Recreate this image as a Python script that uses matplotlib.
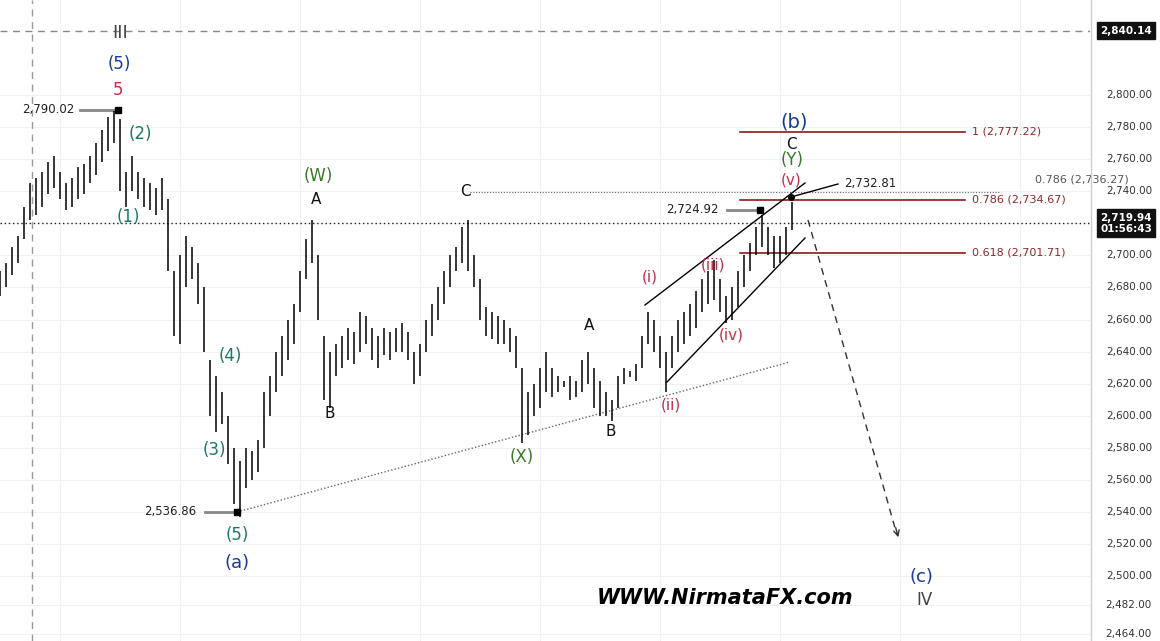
import matplotlib
matplotlib.use("Agg")
import matplotlib.pyplot as plt

highs = [2690,2695,2705,2712,2730,2745,2748,2752,2758,2762,2752,2745,2748,2755,2757,2762,2770,2778,2786,2790,
         2785,2752,2762,2752,2748,2745,2742,2748,2735,2690,2700,2712,2705,2695,2680,2635,2625,2615,2600,2580,
         2572,2580,2578,2585,2615,2625,2640,2650,2660,2670,2690,2710,2722,2700,2650,2640,2645,2650,2655,2652,
         2665,2662,2655,2650,2655,2652,2655,2658,2652,2640,2645,2660,2670,2680,2690,2700,2705,2718,2722,2700,
         2685,2668,2665,2662,2660,2655,2650,2630,2615,2620,2630,2640,2630,2625,2622,2625,2622,2635,2640,2630,
         2622,2615,2610,2625,2630,2628,2632,2650,2665,2660,2650,2640,2650,2660,2665,2670,2678,2685,2690,2697,
         2685,2675,2680,2690,2700,2708,2718,2725,2718,2712,2712,2718,2733]
lows = [2675,2680,2688,2695,2710,2722,2725,2730,2738,2742,2735,2728,2730,2735,2738,2745,2750,2758,2765,2770,
        2740,2730,2740,2735,2730,2728,2725,2728,2690,2650,2645,2680,2685,2670,2640,2600,2590,2595,2570,2545,
        2537,2555,2560,2565,2580,2600,2615,2625,2635,2645,2665,2685,2695,2660,2610,2605,2625,2630,2635,2632,
        2640,2645,2635,2630,2638,2635,2640,2640,2635,2620,2625,2640,2650,2660,2670,2680,2690,2695,2690,2680,
        2660,2650,2648,2645,2645,2640,2630,2583,2588,2600,2605,2615,2612,2615,2618,2610,2612,2615,2620,2605,
        2600,2600,2597,2605,2620,2624,2622,2630,2645,2640,2630,2615,2630,2640,2645,2650,2655,2665,2670,2672,
        2665,2658,2660,2668,2680,2690,2700,2705,2700,2692,2695,2700,2716]
yticks = [2464, 2482, 2500, 2520, 2540, 2560, 2580, 2600, 2620, 2640, 2660, 2680, 2700,
          2720, 2740, 2760, 2780, 2800]
fib_levels = [2777.22, 2734.67, 2701.71]
fib_labels = ["1 (2,777.22)", "0.786 (2,734.67)", "0.618 (2,701.71)"]
last_price = 2719.94
top_level = 2840.14

W, H = 1160, 641
fig = plt.figure(figsize=(W/100, H/100), dpi=100)
ax = fig.add_axes([0, 0, 1090/W, 1])
PX = 6.0
ax.set_xlim(0, 1090/PX)
ymax = 2800 + 95/1.604
ymin = 2800 - (H-95)/1.604
ax.set_ylim(ymin, ymax)
ax.axis("off")

def X(px): return px / PX
def Y(py): return 2800 - (py - 95)/1.604

# grid
for t in yticks:
    ax.axhline(t, color="#f0f1f4", lw=0.8, zorder=0)
for gx in range(60, 1090, 120):
    ax.axvline(X(gx), color="#f0f1f4", lw=0.8, zorder=0)

# bars
for i, (h, l) in enumerate(zip(highs, lows)):
    ax.vlines(i, l, h, color="black", lw=1.1, zorder=3)

ax.axvline(X(32), color="#999", lw=1, ls=(0, (5, 4)))
ax.axhline(top_level, color="#888", lw=1, ls=(0, (5, 4)))
ax.axhline(last_price, color="#222", lw=1, ls=(0, (1, 2)))
ax.plot([X(470), X(1000)], [Y(192)]*2, color="#666", lw=0.8, ls=(0, (1, 1.5)))

for lv, lb in zip(fib_levels, fib_labels):
    ax.plot([X(740), X(965)], [lv, lv], color="#8b1a1a", lw=1.2)
    ax.text(X(972), lv, lb, color="#8b2a2a", fontsize=8, va="center")
ax.text(X(1035), Y(180), "0.786 (2,736.27)", color="#555", fontsize=8, va="center")

# channel, trend lines
ax.plot([X(645), X(805)], [Y(305), Y(183)], color="black", lw=1)
ax.plot([X(667), X(805)], [Y(382), Y(238)], color="black", lw=1)
ax.plot([X(237), X(790)], [Y(512), Y(362)], color="#666", lw=1, ls=(0, (1, 1.5)))
ax.plot([X(808), X(897)], [Y(220), Y(535)], color="#333", lw=1, ls=(0, (5, 4)))
ax.annotate("", xy=(X(899), Y(540)), xytext=(X(895), Y(525)),
            arrowprops=dict(arrowstyle="->", color="#333", lw=1))

def marker(px, py, lx0, lx1, txt, tx, ha="center"):
    ax.plot([X(lx0), X(lx1)], [Y(py)]*2, color="#888", lw=2)
    ax.plot(X(px), Y(py), "s", color="black", ms=4)
    ax.text(X(tx), Y(py), txt, fontsize=8.5, color="#222", ha=ha, va="center")
marker(118, 110, 80, 118, "2,790.02", 48)
marker(237, 512, 205, 237, "2,536.86", 170)
marker(760, 210, 727, 760, "2,724.92", 692)
ax.plot([X(791), X(838)], [Y(197), Y(184)], color="black", lw=1)
ax.plot(X(791), Y(197), "o", color="black", ms=4)
ax.text(X(870), Y(183), "2,732.81", fontsize=8.5, color="#222", ha="center", va="center")

blue, teal, green, red, blk, gray = "#1a3a9a", "#1a7a6a", "#3a7a2a", "#c0304a", "#111", "#444"
labels = [("III", 120, 33, gray, 13), ("(5)", 119, 64, blue, 12), ("5", 118, 90, red, 12),
          ("(2)", 140, 134, teal, 12), ("(1)", 128, 217, teal, 12), ("(4)", 230, 356, teal, 12),
          ("(3)", 214, 450, teal, 12), ("(5)", 237, 535, teal, 12), ("(a)", 237, 563, blue, 13),
          ("(W)", 318, 176, green, 12), ("A", 316, 199, blk, 11), ("B", 330, 414, blk, 11),
          ("C", 465, 191, blk, 11), ("(X)", 522, 457, green, 12), ("A", 589, 326, blk, 11),
          ("B", 611, 432, blk, 11), ("(i)", 650, 277, red, 11), ("(ii)", 671, 405, red, 11),
          ("(iii)", 713, 265, red, 11), ("(iv)", 731, 335, red, 11), ("(v)", 791, 180, red, 11),
          ("(b)", 794, 122, blue, 14), ("C", 791, 145, blk, 11), ("(Y)", 792, 160, green, 12),
          ("(c)", 921, 577, blue, 13), ("IV", 925, 600, gray, 12)]
for t, x, y, c, fs in labels:
    ax.text(X(x), Y(y), t, color=c, fontsize=fs, ha="center", va="center")
ax.text(X(725), Y(598), "WWW.NirmataFX.com", fontsize=15, fontweight="bold", style="italic",
        ha="center", va="center", color="black")

# right price axis
ax2 = fig.add_axes([1090/W, 0, 70/W, 1])
ax2.set_xlim(0, 70)
ax2.set_ylim(ymin, ymax)
ax2.axis("off")
ax2.axvline(1, color="#ccc", lw=1)
for t in yticks:
    if abs(t - last_price) < 8:
        continue
    ax2.text(62, t, f"{t:,.2f}", fontsize=7.5, color="#333", ha="right", va="center")
ax2.text(62, top_level, f"{top_level:,.2f}", fontsize=7.5, color="white", fontweight="bold",
         ha="right", va="center", bbox=dict(boxstyle="square,pad=0.3", fc="#111", ec="#111"))
ax2.text(62, last_price, f"{last_price:,.2f}\n01:56:43", fontsize=7.5, color="white",
         fontweight="bold", ha="right", va="center", linespacing=1.2,
         bbox=dict(boxstyle="square,pad=0.3", fc="#111", ec="#111"))

fig.savefig("out.png", dpi=100)
